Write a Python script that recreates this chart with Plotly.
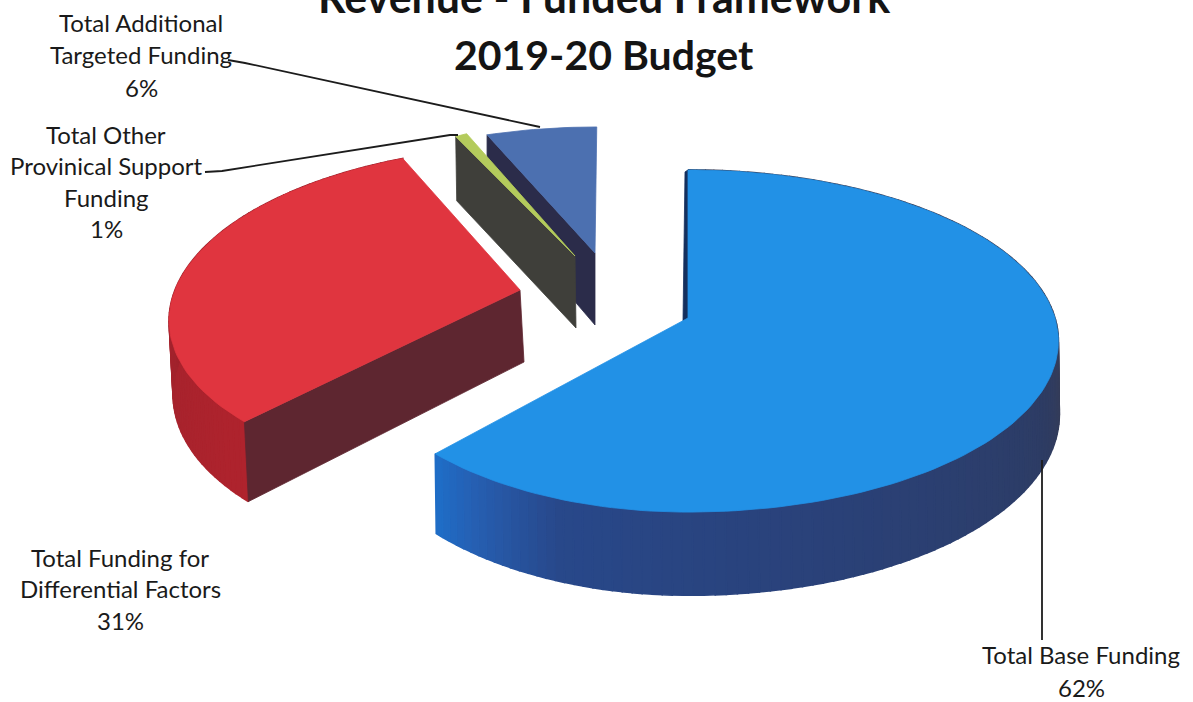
import math
import plotly.graph_objects as go

# Budget shares, in percent, clockwise from twelve o'clock
categories = ["Total Base Funding", "Total Funding for Differential Factors",
              "Total Other Provinical Support Funding", "Total Additional Targeted Funding"]
shares = [62, 31, 1, 6]
title_lines = ["Revenue - Funded Framework", "2019-20 Budget"]

WIDTH, HEIGHT = 1193, 702
PERSPECTIVE = 0.1345
THICKNESS = 72

# Exploded wedge geometry: apex, horizontal radii, depth radius, shear, wall lean
wedges = [
    dict(cx=688, cy=318, a_right=367, a_left=333, b=168, shear=0, lean=1,
         top="#2291E6", rim=[(223, (30, 110, 200)), (215, (38, 95, 178)), (200, (40, 72, 138)),
                             (160, (42, 65, 120)), (115, (45, 60, 100)), (95, (55, 60, 85))],
         cut=None, sliver=5),
    dict(cx=520, cy=290, a_right=345, a_left=345, b=163, shear=17, lean=4,
         top="#E0353F", rim=[(223, (175, 35, 45)), (260, (165, 35, 45)), (290, (150, 30, 40))],
         cut="#5E2630", sliver=0),
    dict(cx=575, cy=256, a_right=225, a_left=225, b=148, shear=-42, lean=1,
         top="#B4CB5C", rim=None, cut="#3F3F3A", sliver=0),
    dict(cx=595, cy=253, a_right=335, a_left=335, b=143, shear=2, lean=0,
         top="#4C70B0", rim=None, cut="#2B2C4A", sliver=0),
]

# Label rows as (centre x, first row y, row spacing)
label_places = [(1081, 654, 33), (120, 557, 31.5), (106, 134, 31.5), (141, 22, 32.5)]
label_rows = [
    ["Total Base Funding"],
    ["Total Funding for", "Differential Factors"],
    ["Total Other", "Provinical Support", "Funding"],
    ["Total Additional", "Targeted Funding"],
]
leader_paths = [
    [(1042, 460), (1042, 640)],
    [(205, 172), (222, 171), (450, 135), (458, 135)],
    [(228, 60), (245, 63), (540, 127)],
]
# Title rows as (text centre x, y, anchor, size)
title_places = [(604, 24, "bottom", 43), (604, 54, "middle", 41)]


def rim_point(w, angle):
    """Project a point on the wedge's rim; returns x, y and the perspective divisor."""
    rad = math.radians(angle)
    u, v = math.sin(rad), math.cos(rad)
    div = 1 + PERSPECTIVE * v
    a = w["a_right"] if u >= 0 else w["a_left"]
    return w["cx"] + (a * u + w["shear"] * v) / div, w["cy"] - w["b"] * v / div, div


def drop(w, x, y, div):
    """The same point on the underside of the disc."""
    return x + w["lean"], y + THICKNESS / div


def blend(stops, angle):
    ordered = sorted(stops)
    if angle <= ordered[0][0]:
        return ordered[0][1]
    for (a0, c0), (a1, c1) in zip(ordered, ordered[1:]):
        if angle <= a1:
            t = (angle - a0) / (a1 - a0)
            return tuple(round(p + (q - p) * t) for p, q in zip(c0, c1))
    return ordered[-1][1]


def polygon(fig, pts, color, edge=0.8):
    fig.add_trace(go.Scatter(
        x=[p[0] for p in pts] + [pts[0][0]], y=[p[1] for p in pts] + [pts[0][1]],
        mode="lines", fill="toself", fillcolor=color,
        line=dict(color=color, width=edge), hoverinfo="skip", showlegend=False))


fig = go.Figure()

# Angular spans follow directly from the shares
spans = []
start = 0.0
for share in shares:
    spans.append((start, start + share * 3.6))
    start += share * 3.6

# Back wedges first so the nearer ones overlap them
for idx in [3, 2, 1, 0]:
    w = wedges[idx]
    a0, a1 = spans[idx]
    steps = max(2, int((a1 - a0) / 1.5))
    angles = [a0 + (a1 - a0) * i / steps for i in range(steps + 1)]
    rim = [rim_point(w, a) for a in angles]
    apex = (w["cx"], w["cy"])

    if w["rim"]:
        for a, a_next, p, q in zip(angles, angles[1:], rim, rim[1:]):
            r, g, b = blend(w["rim"], (a + a_next) / 2)
            polygon(fig, [p[:2], q[:2], drop(w, *q), drop(w, *p)], f"rgb({r},{g},{b})", edge=1.6)

    if w["cut"]:
        # The face along the wedge's leading radius is the one turned towards the viewer
        p = rim[0]
        polygon(fig, [apex, p[:2], drop(w, *p), drop(w, apex[0], apex[1], 1)], w["cut"])

    if w["sliver"]:
        p = rim[0]
        polygon(fig, [p[:2], apex, (apex[0] - w["sliver"], apex[1] + 3),
                      (p[0] - w["sliver"] + 2, p[1] + 2)], "#14305E")

    polygon(fig, [apex] + [p[:2] for p in rim], w["top"])

for path in leader_paths:
    fig.add_trace(go.Scatter(x=[p[0] for p in path], y=[p[1] for p in path], mode="lines",
                             line=dict(color="#1c1c1c", width=1.8),
                             hoverinfo="skip", showlegend=False))

annotations = []
for rows, share, (x, y0, gap) in zip(label_rows, shares, label_places):
    for i, row in enumerate(rows + [f"{share}%"]):
        annotations.append(dict(x=x, y=y0 + i * gap, text=row, showarrow=False,
                                xanchor="center", yanchor="middle",
                                font=dict(family="Lato", size=24, color="#1a1a1a")))
for line, (x, y, anchor, size) in zip(title_lines, title_places):
    annotations.append(dict(x=x, y=y, text=f"<b>{line}</b>", showarrow=False,
                            xanchor="center", yanchor=anchor,
                            font=dict(family="Lato", size=size, color="#141414")))

fig.update_layout(
    width=WIDTH, height=HEIGHT, margin=dict(l=0, r=0, t=0, b=0),
    paper_bgcolor="white", plot_bgcolor="white", showlegend=False,
    xaxis=dict(range=[0, WIDTH], visible=False, fixedrange=True),
    yaxis=dict(range=[HEIGHT, 0], visible=False, fixedrange=True),
    annotations=annotations,
)
fig.write_html("out.html", config={"displayModeBar": False})
